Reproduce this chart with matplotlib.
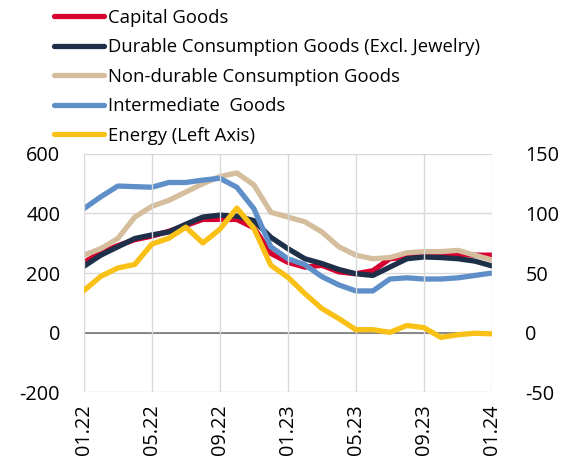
import matplotlib.pyplot as plt
from matplotlib.lines import Line2D

plt.rcParams['font.family'] = ['Open Sans', 'DejaVu Sans']
plt.rcParams['axes.unicode_minus'] = False

months = ['01.22', '02.22', '03.22', '04.22', '05.22', '06.22', '07.22', '08.22', '09.22', '10.22', '11.22', '12.22',
          '01.23', '02.23', '03.23', '04.23', '05.23', '06.23', '07.23', '08.23', '09.23', '10.23', '11.23', '12.23',
          '01.24']
tick_labels = ['01.22', '05.22', '09.22', '01.23', '05.23', '09.23', '01.24']

# right axis series
capital = [59, 67, 73, 78, 81, 85, 90, 95, 95, 95, 88, 66.5, 59, 55, 56.5, 51, 49.4, 52, 62, 63.5, 64, 65, 65.5, 65, 65]
durable = [55.6, 65, 72, 79, 82, 84.5, 91, 97, 98.6, 97.8, 94, 80, 70.5, 62, 58, 53, 49.4, 48, 55, 62, 63.5, 63, 62, 60, 56]
nondurable = [65, 70.5, 79, 97, 106, 111, 118, 125, 131, 134, 124, 101, 97, 93, 84.5, 72, 65, 62, 63, 67, 68, 68, 69, 65, 61]
intermediate = [104, 114, 123, 122.5, 122, 126, 126, 128, 129.5, 122, 104, 72, 62, 57, 47, 40, 35, 35, 45, 46, 45, 45, 46, 48, 50]
# left axis
energy = [141, 189, 217, 229, 297, 317, 354, 301, 347, 418, 350, 226, 186, 131, 81, 47, 10, 10, 1, 24, 17, -16, -7, -2, -4]

c_red = '#D5002F'
c_navy = '#1E3049'
c_tan = '#D5BE9D'
c_blue = '#5F8FC9'
c_yellow = '#F9C015'
lw = 3.8

fig = plt.figure(figsize=(5.74, 4.72), dpi=100)
ax = fig.add_axes([0.146, 0.169, 0.711, 0.505])
ax2 = ax.twinx()
ax.set_zorder(ax2.get_zorder() + 1)
ax.patch.set_visible(False)

x = list(range(len(months)))
ax2.plot(x, capital, color=c_red, lw=lw, solid_capstyle='round', solid_joinstyle='round')
ax2.plot(x, durable, color=c_navy, lw=lw, solid_capstyle='round', solid_joinstyle='round')
ax2.plot(x, nondurable, color=c_tan, lw=lw, solid_capstyle='round', solid_joinstyle='round')
ax2.plot(x, intermediate, color=c_blue, lw=lw, solid_capstyle='round', solid_joinstyle='round')
ax.plot(x, energy, color=c_yellow, lw=lw, solid_capstyle='round', solid_joinstyle='round')

ax.set_ylim(-200, 600)
ax2.set_ylim(-50, 150)
ax.set_xlim(0, 24)
ax.set_yticks([-200, 0, 200, 400, 600])
ax2.set_yticks([-50, 0, 50, 100, 150])
ax.set_xticks([months.index(t) for t in tick_labels])
ax.set_xticklabels(tick_labels, rotation=90)

for a in (ax, ax2):
    for s in a.spines.values():
        s.set_visible(False)
    a.tick_params(length=0, labelsize=14.3, colors='black')
ax.tick_params(axis='y', pad=17)
ax2.tick_params(axis='y', pad=24)
ax.tick_params(axis='x', pad=9)

ax2.grid(True, axis='y', color='#D9D9D9', lw=1)
ax.grid(True, axis='x', color='#D9D9D9', lw=1)
ax2.set_axisbelow(True)
ax.axhline(0, color='#808080', lw=1.3, zorder=1)

handles = [Line2D([], [], color=c, lw=lw, solid_capstyle='round') for c in (c_red, c_navy, c_tan, c_blue, c_yellow)]
labels = ['Capital Goods', 'Durable Consumption Goods (Excl. Jewelry)', 'Non-durable Consumption Goods',
          'Intermediate  Goods', 'Energy (Left Axis)']
fig.legend(handles, labels, loc='upper left', bbox_to_anchor=(0.075, 1.005), frameon=False, fontsize=13.3,
           handlelength=2.7, handletextpad=0.2, labelspacing=0.62, borderaxespad=0.2)

fig.savefig('out.png', dpi=100)
